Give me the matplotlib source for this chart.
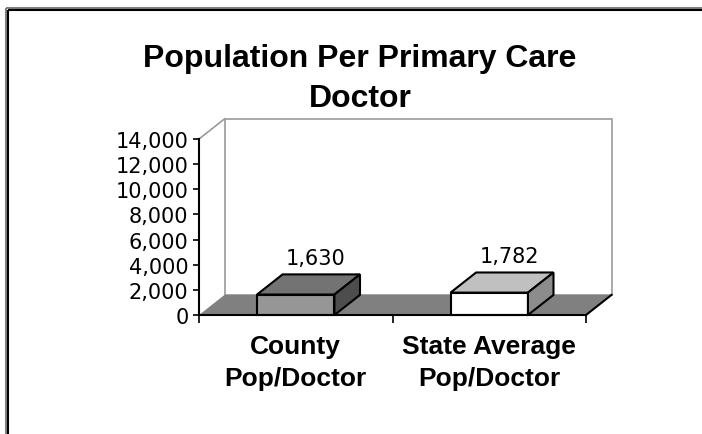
import matplotlib
matplotlib.use("Agg")
import matplotlib.pyplot as plt
from matplotlib.patches import Polygon
from matplotlib.lines import Line2D

# ---------------------------------------------------------------------------
# Data
# ---------------------------------------------------------------------------

categories = ["County\nPop/Doctor", "State Average\nPop/Doctor"]
values = [1630, 1782]
y_ticks = [0, 2000, 4000, 6000, 8000, 10000, 12000, 14000]

front_colors = ["#969696", "#ffffff"]
top_colors = ["#737373", "#c0c0c0"]
side_colors = ["#4d4d4d", "#8c8c8c"]

# pseudo-3D depth (data units)
DX = 0.132
DY = 1600
BAR_W = 0.4
YMAX = 14000

# ---------------------------------------------------------------------------
# Figure
# ---------------------------------------------------------------------------

fig = plt.figure(figsize=(7.02, 4.35), dpi=100)
fig.patch.set_facecolor("white")

# outer frame (top + left only, rest is cut off)
frame_kw = dict(lw=1.5, solid_capstyle="butt")
fig.add_artist(Line2D([5.5 / 702, 1.0], [1 - 8.5 / 435, 1 - 8.5 / 435], color="#808080", **frame_kw))
fig.add_artist(Line2D([7.5 / 702, 1.0], [1 - 10.5 / 435, 1 - 10.5 / 435], color="black", **frame_kw))
fig.add_artist(Line2D([5.5 / 702, 5.5 / 702], [0.0, 1 - 8.5 / 435], color="#808080", **frame_kw))
fig.add_artist(Line2D([7.5 / 702, 7.5 / 702], [0.0, 1 - 10.5 / 435], color="black", **frame_kw))

fig.text(0.513, 1 - 44 / 435, "Population Per Primary Care\nDoctor",
         ha="center", va="top", fontsize=23, fontweight="bold",
         family="Liberation Sans", linespacing=1.45)

ax = fig.add_axes([199 / 702, 119 / 435, 387 / 702, 176 / 435])
ax.set_xlim(-0.5, 1.5)
ax.set_ylim(0, YMAX)
ax.patch.set_visible(False)

# back wall
wall = Polygon([(-0.5 + DX, DY), (1.5 + DX, DY), (1.5 + DX, YMAX + DY), (-0.5 + DX, YMAX + DY)],
               closed=True, facecolor="white", edgecolor="#999999", lw=1.2,
               clip_on=False, zorder=1)
ax.add_patch(wall)
ax.plot([-0.5, -0.5 + DX], [YMAX, YMAX + DY], color="#999999", lw=1.2, clip_on=False, zorder=1)

# floor
floor = Polygon([(-0.5, 0), (1.5, 0), (1.5 + DX, DY), (-0.5 + DX, DY)],
                closed=True, facecolor="#808080", edgecolor="none", clip_on=False, zorder=2)
ax.add_patch(floor)
ax.plot([1.5, 1.5 + DX], [0, DY], color="black", lw=1.5, clip_on=False, zorder=3)

# bars
xs = list(range(len(values)))
ax.bar(xs, values, width=BAR_W, color=front_colors, edgecolor="black", lw=1.5,
       clip_on=False, zorder=4)
for x, v, tc, sc in zip(xs, values, top_colors, side_colors):
    l, r = x - BAR_W / 2, x + BAR_W / 2
    top = Polygon([(l, v), (r, v), (r + DX, v + DY), (l + DX, v + DY)],
                  closed=True, facecolor=tc, edgecolor="black", lw=1.5, clip_on=False, zorder=4)
    side = Polygon([(r, 0), (r + DX, DY), (r + DX, v + DY), (r, v)],
                   closed=True, facecolor=sc, edgecolor="black", lw=1.5, clip_on=False, zorder=4)
    ax.add_patch(top)
    ax.add_patch(side)
    ax.annotate(f"{v:,}", xy=(x + DX / 2, v + DY), xytext=(5, 4.5),
                textcoords="offset points", ha="center", va="bottom",
                fontsize=15, family="DejaVu Sans")

# axes styling
for s in ["top", "right"]:
    ax.spines[s].set_visible(False)
for s in ["left", "bottom"]:
    ax.spines[s].set_linewidth(1.5)
    ax.spines[s].set_zorder(5)

ax.set_yticks(y_ticks)
ax.set_yticklabels([f"{t:,}" for t in y_ticks], fontsize=15, family="DejaVu Sans")
ax.tick_params(axis="y", direction="out", length=4.5, width=1.2, pad=3)

ax.set_xticks([-0.5, 0.5, 1.5])
ax.set_xticklabels(["", "", ""])
ax.tick_params(axis="x", which="major", direction="out", length=5.5, width=1.2)
ax.set_xticks(xs, minor=True)
ax.set_xticklabels(categories, minor=True, fontsize=19, fontweight="bold",
                   family="Liberation Sans", linespacing=1.4)
ax.tick_params(axis="x", which="minor", length=0, pad=14)

fig.savefig("out.png", dpi=100)
